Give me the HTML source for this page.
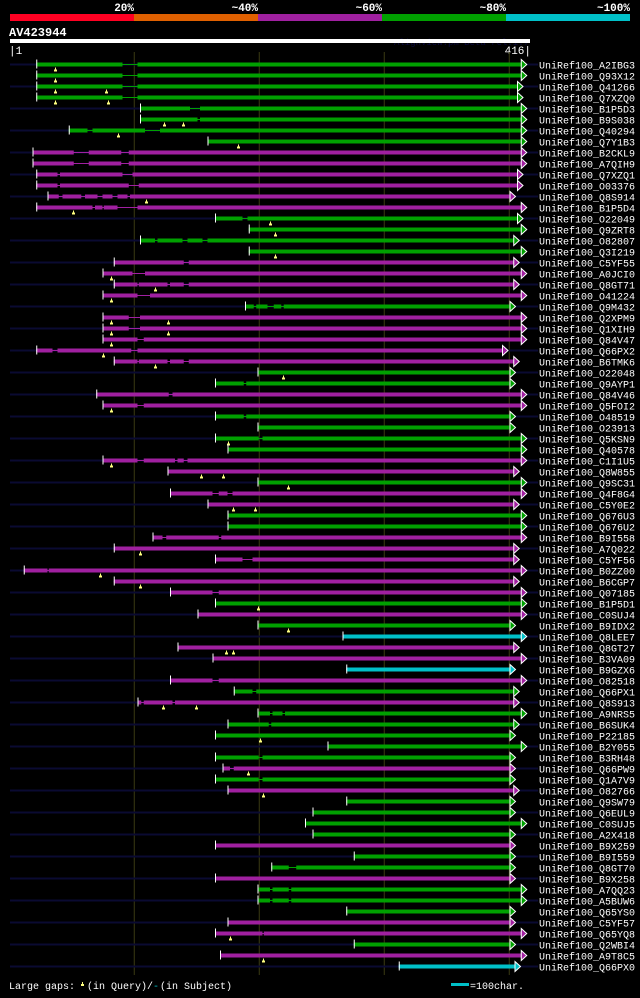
<!DOCTYPE html>
<html><head><meta charset="utf-8">
<style>
html,body{margin:0;padding:0;background:#000;}
body{width:640px;height:993px;overflow:hidden;font-family:"Liberation Mono",monospace;}
svg text{font-family:"Liberation Mono",monospace;}
</style></head>
<body>
<svg id="chart" width="640" height="993" viewBox="0 0 640 993" xmlns="http://www.w3.org/2000/svg">
  <g>
    <rect x="10" y="14" width="124" height="7" fill="#ff0022"/>
    <rect x="134" y="14" width="124" height="7" fill="#e06000"/>
    <rect x="258" y="14" width="124" height="7" fill="#a020a0"/>
    <rect x="382" y="14" width="124" height="7" fill="#00a000"/>
    <rect x="506" y="14" width="124" height="7" fill="#00c0c8"/>
    <g fill="#fff" font-size="11" font-weight="bold" text-anchor="end">
      <text x="134" y="11">20%</text>
      <text x="258" y="11">~40%</text>
      <text x="382" y="11">~60%</text>
      <text x="506" y="11">~80%</text>
      <text x="630" y="11">~100%</text>
    </g>
  </g>
  <text x="9" y="36" fill="#fff" font-size="12" font-weight="bold">AV423944</text>
  <text x="529" y="45" fill="#0a0a40" font-size="9" text-anchor="end">AlignView.pm Beta rel.1.7</text>
  <rect x="10" y="39" width="520" height="4" fill="#fff"/>
  <text x="9" y="54" fill="#fff" font-size="11">|1</text>
  <text x="531" y="54" fill="#fff" font-size="11" text-anchor="end">416|</text>
  <g id="grid"></g>
  <g id="rows"></g>
  <g>
    <text x="9" y="989" fill="#fff" font-size="10">Large gaps:</text>
    <path d="M82 982 h1 v2 h1 v2 h-3 v-2 h1z" fill="#ffff80"/>
    <text x="87" y="989" fill="#fff" font-size="10">(in Query)/</text>
    <text x="153" y="989" fill="#00c0c8" font-size="10">-</text>
    <text x="160" y="989" fill="#fff" font-size="10">(in Subject)</text>
    <rect x="451" y="983" width="18" height="3" fill="#00c0c8"/>
    <text x="470" y="989" fill="#fff" font-size="10">=100char.</text>
  </g>
</svg>
<script>
const names = ["A2IBG3","Q93X12","Q41266","Q7XZQ0","B1P5D3","B9S038","Q40294","Q7Y1B3","B2CKL9","A7QIH9","Q7XZQ1","O03376","Q8S914","B1P5D4","O22049","Q9ZRT8","O82807","Q3I219","C5YF55","A0JCI0","Q8GT71","O41224","Q9M432","Q2XPM9","Q1XIH9","Q84V47","Q66PX2","B6TMK6","O22048","Q9AYP1","Q84V46","Q5FOI2","O48519","O23913","Q5KSN9","Q40578","C1I1U5","Q8W855","Q9SC31","Q4F8G4","C5Y0E2","Q676U3","Q676U2","B9I558","A7Q022","C5YF56","B0ZZ00","B6CGP7","Q07185","B1P5D1","C0SUJ4","B9IDX2","Q8LEE7","Q8GT27","B3VA09","B9GZX6","O82518","Q66PX1","Q8S913","A9NRS5","B6SUK4","P22185","B2Y055","B3RH48","Q66PW9","Q1A7V9","O82766","Q9SW79","Q6EUL9","C0SUJ5","A2X418","B9X259","B9I559","Q8GT70","B9X258","A7QQ23","A5BUW6","Q65YS0","C5YF57","Q65YQ8","Q2WBI4","A9T8C5","Q66PX0"];
const identityClass = "ggggggggmmmmmmgggggmmmmgmmmmmggmmgggggmmgmmgggmmmmmmgmgcmmcmgmgggggmgmggggmgggmggmmgc".split("");
</script>
<script>
const idClasses = ["g","g","g","g","g","g","g","g","m","m","m","m","m","m","g","g","g","g","m","m","m","m","g","m","m","m","m","m","g","g","m","m","g","g","g","g","m","m","g","m","m","g","g","m","m","m","m","m","m","g","m","g","c","m","m","c","m","g","m","g","g","g","g","g","m","g","m","g","g","g","g","m","g","g","m","g","g","g","m","m","g","m","c"];
const starts = [22,22,22,22,105,105,48,159,19,19,22,22,31,22,165,192,105,192,84,75,84,75,189,75,75,75,22,84,199,165,70,75,165,199,165,175,75,127,199,129,159,175,175,115,84,165,12,84,129,165,151,199,267,135,163,270,129,180,103,199,175,165,255,165,171,165,175,270,243,237,243,165,276,210,165,199,199,270,175,165,276,169,312];
const ends = [410,410,407,407,410,410,410,410,410,410,407,407,401,410,407,410,404,410,404,410,404,410,401,410,410,410,395,404,401,401,410,410,401,401,410,410,410,404,410,410,404,410,410,410,404,404,410,404,410,410,410,401,410,404,410,401,410,404,404,410,404,401,410,401,401,401,404,401,401,410,401,401,401,401,401,410,410,401,401,410,401,410,405];
const gaps = [[[91,103]],[[91,103]],[[91,103]],[[91,103]],[[145,153]],[[151,153]],[[63,67],[109,121]],[],[[52,64],[90,96]],[[52,64],[90,96]],[[39,41],[91,99]],[[39,41],[96,104]],[[40,43],[58,61],[71,75],[83,87],[95,97]],[[67,69],[75,76],[87,103]],[[187,191]],[],[[117,119],[139,143],[155,159]],[],[[140,144]],[[99,109]],[[103,104],[127,129],[140,144]],[[103,113]],[[196,198],[207,212],[218,220]],[[96,105]],[[96,105]],[[103,108]],[[35,39],[98,103]],[[103,104],[127,129],[140,144]],[],[[188,190]],[[128,131]],[[103,108]],[[188,190]],[],[[200,203]],[],[[103,108],[133,135],[140,143]],[],[],[[163,168],[175,179]],[],[],[],[[123,126],[168,170]],[],[[187,195]],[[31,32]],[],[[163,168]],[],[],[],[],[],[],[],[[163,168]],[[195,198]],[[106,108],[131,133]],[[209,211],[219,221]],[[208,210]],[],[],[[200,203]],[[177,180]],[[200,203]],[],[],[],[],[],[],[],[[224,230]],[],[[209,211],[224,226]],[[209,211],[224,226]],[],[],[[203,204]],[],[],[]];
const markers = [[37],[37],[37,78],[37,79],[],[124,139],[87],[183],[],[],[],[],[110],[51],[209],[213],[],[213],[],[82],[117],[82],[],[82,127],[82,127],[82],[75],[117],[219],[],[],[82],[],[],[175],[],[82],[154,171],[223],[],[179,197],[],[],[],[105],[],[73],[105],[],[199],[],[223],[],[174,179],[],[],[],[],[123,150],[],[],[201],[],[],[191],[],[203],[],[],[],[],[],[],[],[],[],[],[],[],[177],[],[203],[]];
const gridTicks = [100,200,300,400];
</script>
<script>
const NS = "http://www.w3.org/2000/svg";
const colorMap = {g:"#00a000", m:"#a020a0", c:"#00c0c8"};
function xScale(r){ return 10 + (r - 1) * 1.25; }
function yScale(i){ return 64.5 + i * 11; }
function mk(tag, attrs, parent){
  const e = document.createElementNS(NS, tag);
  for (const k in attrs) e.setAttribute(k, attrs[k]);
  parent.appendChild(e);
  return e;
}
const grid = document.getElementById("grid");
gridTicks.forEach(t => {
  const l = mk("line", {x1: xScale(t) + 0.5, x2: xScale(t) + 0.5, y1: 52, y2: 975, stroke: "#3a3a12", "stroke-width": 1}, grid);
  
  
});
const rowsG = document.getElementById("rows");
names.forEach((n, i) => {
  const y = yScale(i);
  const col = colorMap[idClasses[i]];
  const g = mk("g", {}, rowsG);
  
  
  if (i % 2 === 0) {
    const bg = mk("rect", {x: 10, y: y - 1, width: 528, height: 2, fill: "#0a0a32"}, g);
    
    
  }
  const s = xScale(starts[i]), e = xScale(ends[i]);
  const thin = mk("rect", {x: s, y: y - 0.5, width: e - s, height: 1, fill: col}, g);
  
  
  let cur = starts[i];
  const segs = [];
  gaps[i].forEach(gp => { segs.push([cur, gp[0]]); cur = gp[1]; });
  segs.push([cur, ends[i]]);
  segs.forEach(sg => {
    const r = mk("rect", {x: xScale(sg[0]), y: y - 2, width: Math.max(1, xScale(sg[1]) - xScale(sg[0])), height: 4, fill: col}, g);
    
    
  });
  const tick = mk("rect", {x: s, y: y - 5, width: 1, height: 9, fill: "#fff"}, g);
  
  
  const ar = mk("path", {d: `M${e} ${y-5} L${e+5.5} ${y} L${e} ${y+5} Z`, fill: col, stroke: "#fff", "stroke-width": 1}, g);
  
  
  markers[i].forEach(m => {
    const mx = Math.round(xScale(m));
    const mm = mk("path", {d: `M${mx} ${y+3} h1 v2 h1 v2 h-3 v-2 h1 z`, fill: "#ffff80"}, g);
    
    
  });
  const t = mk("text", {x: 539, y: y + 4, fill: "#fff", "font-size": 10}, g);
  t.textContent = "UniRef100_" + n;
  
  
});
</script>
</body></html>
